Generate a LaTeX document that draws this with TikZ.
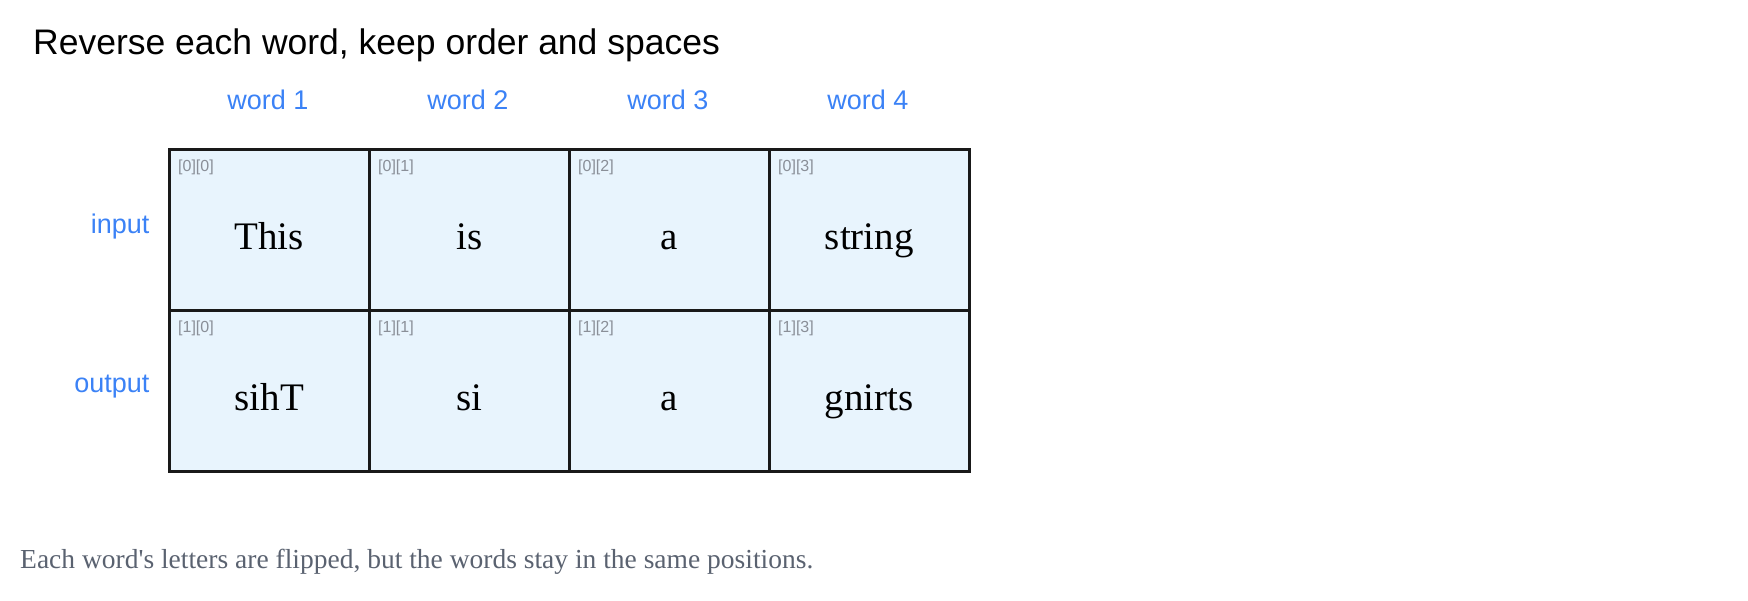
\documentclass[tikz,border=0pt]{standalone}
\usepackage{fontspec}
\setmainfont{Liberation Serif}
\setsansfont{Liberation Sans}
\definecolor{cellfill}{HTML}{E8F4FD}
\definecolor{lblblue}{HTML}{3B82F6}
\definecolor{idxgray}{HTML}{8A8F98}
\definecolor{notegray}{HTML}{5A6270}
\begin{document}
\begin{tikzpicture}[x=1pt,y=-1pt,
  cell/.style={draw=black!90,line width=2.6pt,fill=cellfill,minimum width=200pt,minimum height=161pt,anchor=north west,inner sep=0pt},
  word/.style={font=\fontsize{39}{40}\selectfont,anchor=base,inner sep=0pt},
  idx/.style={font=\sffamily\fontsize{16}{18}\selectfont,text=idxgray,anchor=north west,inner sep=0pt},
  collbl/.style={font=\sffamily\fontsize{27}{28}\selectfont,text=lblblue},
  rowlbl/.style={font=\sffamily\fontsize{27}{28}\selectfont,text=lblblue,anchor=east}]
\useasboundingbox (0,0) rectangle (1748,600);
\node[anchor=base west,font=\sffamily\fontsize{35.5}{38}\selectfont,inner sep=0pt] (title) at (33,54) {Reverse each word, keep order and spaces};
\foreach \c/\w in {0/word 1,1/word 2,2/word 3,3/word 4}
  \node[collbl] (col\c) at (268+200*\c,100) {\w};
\node[rowlbl] (rin) at (153,227) {input};
\node[rowlbl] (rout) at (153,387) {output};
\foreach \r/\c/\t in {0/0/This,0/1/is,0/2/a,0/3/string,1/0/sihT,1/1/si,1/2/a,1/3/gnirts}{
  \node[cell] (c\r\c) at (168+200*\c,148+161*\r) {};
  \node[idx] (i\r\c) at (178+200*\c,160+161*\r) {[\r][\c]};
  \node[word] (w\r\c) at ([yshift=-20pt]c\r\c.center) {\t};
}
\node[anchor=base west,font=\fontsize{27.5}{30}\selectfont,text=notegray,inner sep=0pt] (note) at (20,568) {Each word\textquotesingle s letters are flipped, but the words stay in the same positions.};
\end{tikzpicture}
\end{document}
